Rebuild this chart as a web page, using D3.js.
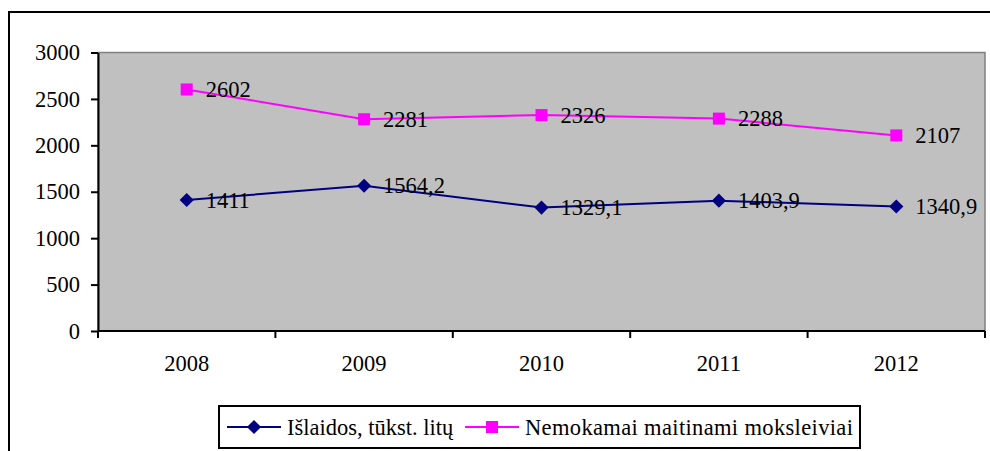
<!DOCTYPE html>
<html>
<head>
<meta charset="utf-8">
<script src="https://cdn.jsdelivr.net/npm/d3@7"></script>
<style>
  html, body { margin: 0; padding: 0; background: #fff; }
  svg { display: block; }
</style>
</head>
<body>
<svg id="chart" width="990" height="451"></svg>
<script>
const years = ["2008", "2009", "2010", "2011", "2012"];
const islaidos = [1411, 1564.2, 1329.1, 1403.9, 1340.9];
const moksleiviai = [2602, 2281, 2326, 2288, 2107];
const yTicks = [0, 500, 1000, 1500, 2000, 2500, 3000];
const seriesNames = ["Išlaidos, tūkst. litų", "Nemokamai maitinami moksleiviai"];

const FONT = "'Times New Roman', 'Liberation Serif', 'DejaVu Serif', serif";
const svg = d3.select("#chart").attr("font-family", FONT);
const fs = 22.5;

// outer frame
svg.append("rect").attr("x", 9).attr("y", 12).attr("width", 1000).attr("height", 500)
  .attr("fill", "#fff").attr("stroke", "#000").attr("stroke-width", 2);

const plot = { left: 98, top: 52.5, right: 985, bottom: 331 };

const x = d3.scaleBand().domain(years).range([plot.left, plot.right]).padding(0);
const y = d3.scaleLinear().domain([0, 3000]).range([plot.bottom, plot.top]);

// plot area
svg.append("rect").attr("x", plot.left).attr("y", plot.top)
  .attr("width", plot.right - plot.left).attr("height", plot.bottom - plot.top)
  .attr("fill", "#C0C0C0").attr("stroke", "#808080").attr("stroke-width", 1.5);

// y axis
const yAxis = d3.axisLeft(y).tickValues(yTicks).tickFormat(d3.format("d"))
  .tickSize(7).tickPadding(11).tickSizeOuter(0);
const gy = svg.append("g").attr("transform", `translate(${plot.left},0)`).call(yAxis)
  .attr("font-family", FONT).attr("font-size", fs);
gy.select(".domain").attr("stroke", "#000").attr("stroke-width", 2);
gy.selectAll(".tick line").attr("stroke", "#000").attr("stroke-width", 2);
gy.selectAll(".tick text").attr("fill", "#000");

// x axis
const gx = svg.append("g").attr("transform", `translate(0,${plot.bottom})`)
  .attr("font-family", FONT).attr("font-size", fs);
gx.append("line").attr("x1", plot.left).attr("x2", plot.right).attr("y1", 0).attr("y2", 0)
  .attr("stroke", "#000").attr("stroke-width", 2);
const bounds = years.map(d => x(d)).concat([x(years[years.length - 1]) + x.bandwidth()]);
gx.selectAll("line.tk").data(bounds).join("line").attr("class", "tk")
  .attr("x1", d => d).attr("x2", d => d).attr("y1", 0).attr("y2", 7)
  .attr("stroke", "#000").attr("stroke-width", 2);
gx.selectAll("text").data(years).join("text")
  .attr("x", d => x(d) + x.bandwidth() / 2).attr("y", 40)
  .attr("text-anchor", "middle").text(d => d);

const cx = d => x(d) + x.bandwidth() / 2;
const line = d3.line().x((d, i) => cx(years[i])).y(d => y(d));
const fmt = v => String(v).replace(".", ",");

const seriesDefs = [
  { data: moksleiviai, color: "#FF00FF", kind: "square" },
  { data: islaidos, color: "#000080", kind: "diamond" }
];
const symDiamond = d3.symbol().type(d3.symbolSquare).size(100);

seriesDefs.forEach(s => {
  svg.append("path").datum(s.data).attr("d", line).attr("fill", "none")
    .attr("stroke", s.color).attr("stroke-width", 2);
});
seriesDefs.forEach(s => {
  const g = svg.append("g");
  s.data.forEach((v, i) => {
    const px = cx(years[i]), py = y(v);
    if (s.kind === "square") {
      g.append("rect").attr("x", px - 6).attr("y", py - 6).attr("width", 12).attr("height", 12).attr("fill", s.color);
    } else {
      g.append("path").attr("d", symDiamond()).attr("transform", `translate(${px},${py}) rotate(45)`).attr("fill", s.color);
    }
  });
});
const gl = svg.append("g").attr("font-size", fs);
seriesDefs.forEach(s => {
  s.data.forEach((v, i) => {
    gl.append("text").attr("x", cx(years[i]) + 19).attr("y", y(v) + 7.5).text(fmt(v));
  });
});

// legend
const lg = svg.append("g").attr("font-size", fs);
lg.append("rect").attr("x", 219).attr("y", 406).attr("width", 641).attr("height", 42)
  .attr("fill", "#fff").attr("stroke", "#000").attr("stroke-width", 2);
const ly = 427;
lg.append("line").attr("x1", 227).attr("x2", 281).attr("y1", ly).attr("y2", ly).attr("stroke", "#000080").attr("stroke-width", 2);
lg.append("path").attr("d", symDiamond()).attr("transform", `translate(254,${ly}) rotate(45)`).attr("fill", "#000080");
const t1 = lg.append("text").attr("x", 287).attr("y", ly + 7.5).text(seriesNames[0]);
const t1end = 287 + t1.node().getComputedTextLength();
const l2 = Math.max(t1end + 8, 465);
lg.append("line").attr("x1", l2).attr("x2", l2 + 54).attr("y1", ly).attr("y2", ly).attr("stroke", "#FF00FF").attr("stroke-width", 2);
lg.append("rect").attr("x", l2 + 27 - 6).attr("y", ly - 6).attr("width", 12).attr("height", 12).attr("fill", "#FF00FF");
lg.append("text").attr("x", l2 + 60).attr("y", ly + 7.5).attr("letter-spacing", 0.35).text(seriesNames[1]);
</script>
</body>
</html>
